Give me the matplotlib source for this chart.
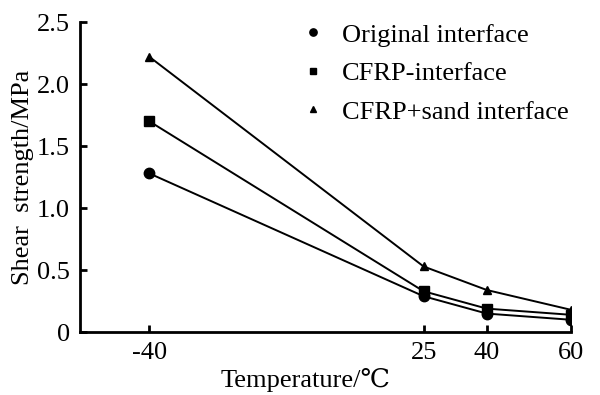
import matplotlib
matplotlib.use("Agg")
import matplotlib.pyplot as plt

temperature = [-40, 25, 40, 60]
original = [1.28, 0.29, 0.15, 0.10]
cfrp = [1.70, 0.33, 0.19, 0.14]
cfrp_sand = [2.22, 0.53, 0.34, 0.18]

series = [
    ("Original interface", original, "o", 7.5),
    ("CFRP-interface", cfrp, "s", 6.5),
    ("CFRP+sand interface", cfrp_sand, "^", 6),
]

plt.rcParams["font.family"] = ["Liberation Serif", "DejaVu Serif"]

fig = plt.figure(figsize=(6, 3.95), dpi=100)
ax = fig.add_axes([0.133, 0.159, 0.819, 0.785])

for name, vals, mk, ms in series:
    ax.plot(temperature, vals, color="black", lw=1.4)
    ax.plot(temperature, vals, linestyle="none", marker=mk, ms=ms,
            color="black", label=name)

ax.set_xlim(-56.5, 60)
ax.set_ylim(0, 2.5)
ax.set_xticks(temperature)
ax.set_xticklabels([str(t) for t in temperature])
ax.set_yticks([0, 0.5, 1.0, 1.5, 2.0, 2.5])
ax.set_yticklabels(["0", "0.5", "1.0", "1.5", "2.0", "2.5"])

for s in ["top", "right"]:
    ax.spines[s].set_visible(False)
for s in ["left", "bottom"]:
    ax.spines[s].set_linewidth(2)
ax.tick_params(direction="in", length=5, width=2, labelsize=19, pad=7)

ax.set_xlabel("Temperature/\u2103", fontsize=19, labelpad=3)
ax.xaxis.label.set_x(0.46)
ax.set_ylabel("Shear  strength/MPa", fontsize=19, labelpad=2)

ax.legend(loc="upper left", bbox_to_anchor=(0.448, 0.997), frameon=False,
          fontsize=19, handlelength=1.0, handletextpad=0.6,
          labelspacing=0.57, markerscale=0.7, borderpad=0, borderaxespad=0)

fig.savefig("out.png", dpi=100)
